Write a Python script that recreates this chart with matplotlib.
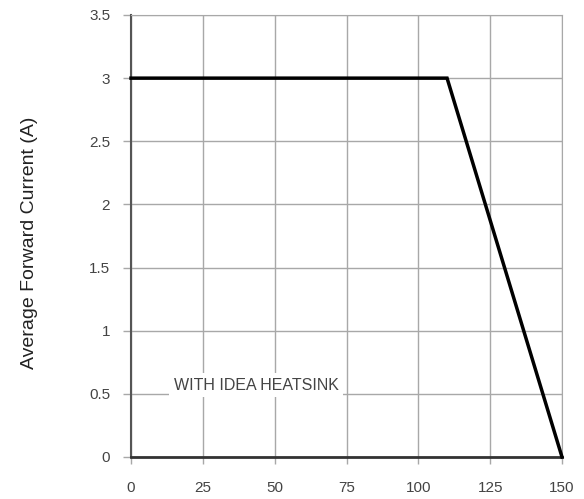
import matplotlib.pyplot as plt
from matplotlib import font_manager

# Datos de la curva de reduccion (derating)
temperatura = [0, 110, 150]
corriente = [3, 3, 0]

x_ticks = [0, 25, 50, 75, 100, 125, 150]
y_ticks = [0, 0.5, 1, 1.5, 2, 2.5, 3, 3.5]
y_tick_labels = ["0", "0.5", "1", "1.5", "2", "2.5", "3", "3.5"]

nombres = {f.name for f in font_manager.fontManager.ttflist}
narrow = "Liberation Sans Narrow" if "Liberation Sans Narrow" in nombres else "Liberation Sans"

fig = plt.figure(figsize=(5.84, 4.99), dpi=100)
ax = fig.add_axes([131 / 584, 1 - 457 / 499, 431 / 584, 442 / 499])

ax.plot(temperatura, corriente, color="black", linewidth=2.5, solid_joinstyle="miter", zorder=3, clip_on=False)

ax.set_xlim(0, 150)
ax.set_ylim(0, 3.5)
ax.set_xticks(x_ticks)
ax.set_yticks(y_ticks)
ax.set_yticklabels(y_tick_labels)
ax.grid(True, color="#a8a8a8", linewidth=1.0)
ax.set_axisbelow(True)

for lab in ax.get_xticklabels() + ax.get_yticklabels():
    lab.set_fontfamily(narrow)
    lab.set_fontsize(11)
    lab.set_color("#444444")
ax.tick_params(axis="y", length=6, width=1, color="#a8a8a8", pad=9)
ax.tick_params(axis="x", length=5, width=1, color="#a8a8a8", pad=12)

ax.spines["top"].set_color("#a8a8a8")
ax.spines["right"].set_color("#a8a8a8")
ax.spines["left"].set_color("#555555")
ax.spines["left"].set_linewidth(1.5)
ax.spines["bottom"].set_color("#333333")
ax.spines["bottom"].set_linewidth(2)

ax.text(43.5, 0.57, "WITH IDEA HEATSINK", ha="center", va="center",
        fontsize=11.5, family=narrow, color="#444444",
        bbox=dict(facecolor="white", edgecolor="none", pad=3))

fig.text(30 / 584, 1 - 243 / 499, "Average Forward Current (A)", rotation=90,
         ha="center", va="center", fontsize=14, family="Liberation Sans", color="#222222")

fig.savefig("out.png", dpi=100)
